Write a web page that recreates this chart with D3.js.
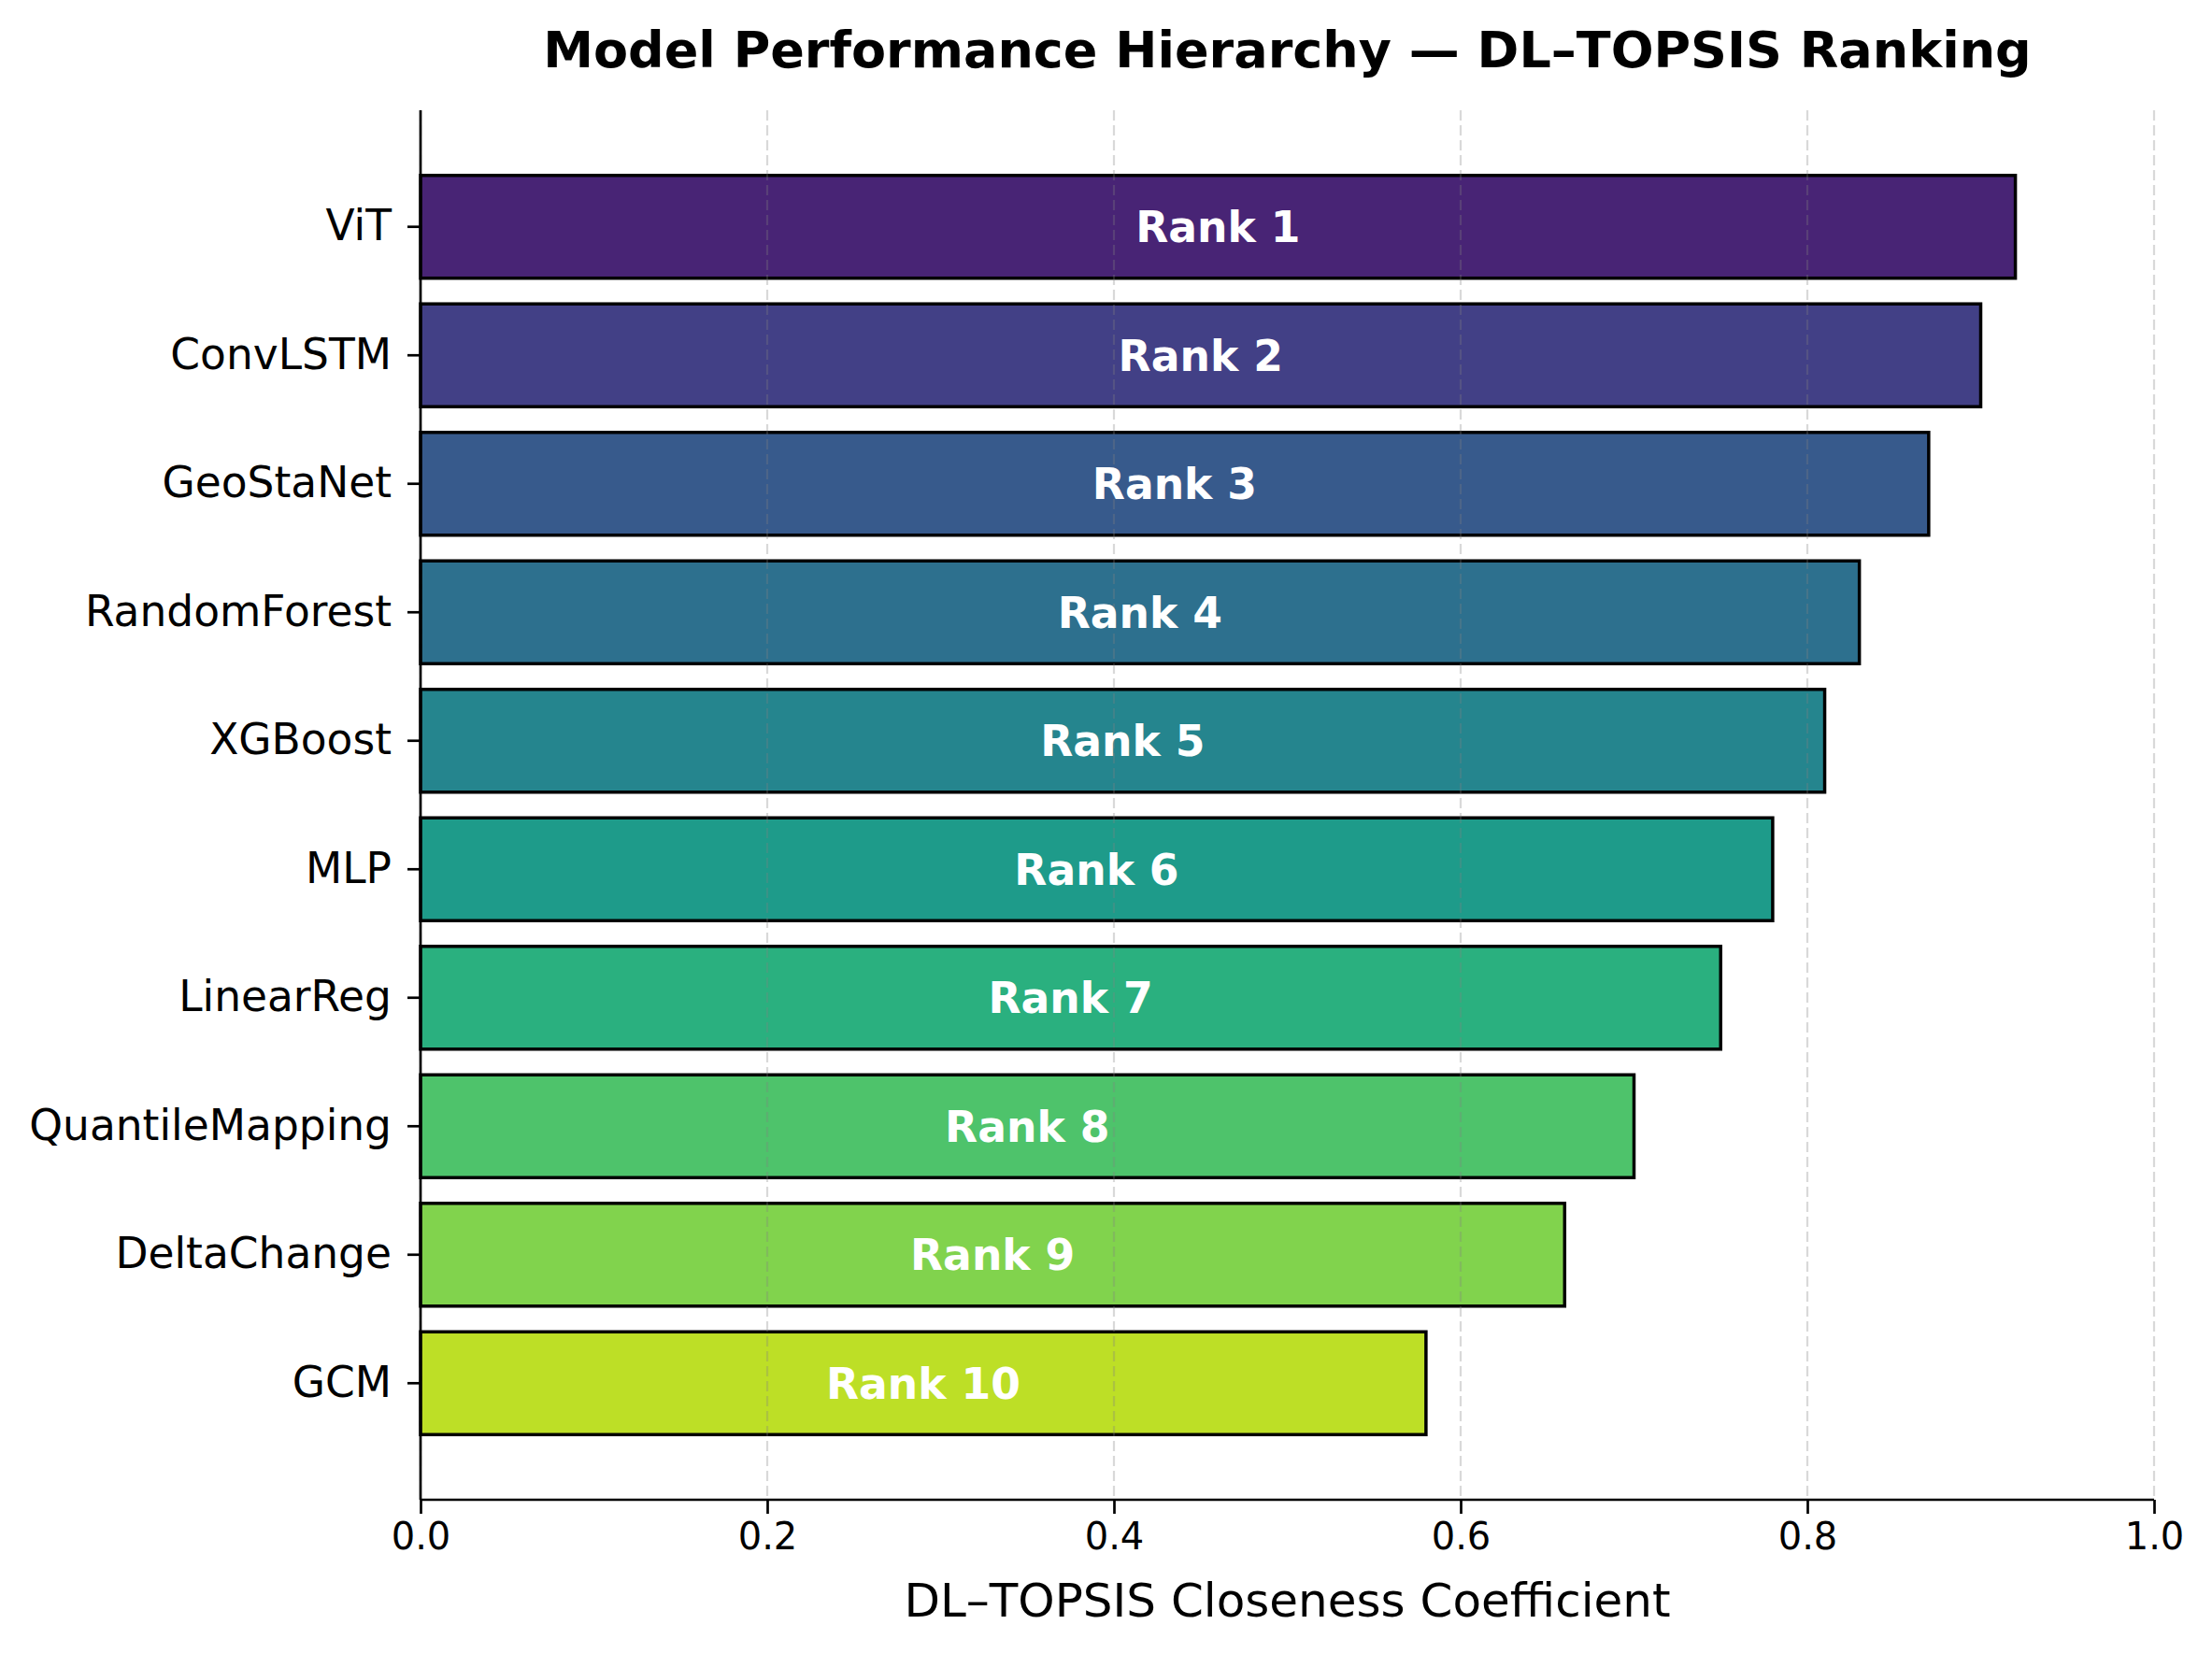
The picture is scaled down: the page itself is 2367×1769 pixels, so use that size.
<!DOCTYPE html>
<html>
<head>
<meta charset="utf-8">
<script src="https://cdn.jsdelivr.net/npm/d3@7"></script>
<style>
  html, body { margin: 0; padding: 0; background: #fff; }
  svg { display: block; }
  text { font-family: "DejaVu Sans", sans-serif; }
</style>
</head>
<body>
<script>
// ---- data ----
const models = ["ViT", "ConvLSTM", "GeoStaNet", "RandomForest", "XGBoost", "MLP", "LinearReg", "QuantileMapping", "DeltaChange", "GCM"];
const scores = [0.92, 0.90, 0.87, 0.83, 0.81, 0.78, 0.75, 0.70, 0.66, 0.58];
const ranks = [1, 2, 3, 4, 5, 6, 7, 8, 9, 10];
const xTicks = [0.0, 0.2, 0.4, 0.6, 0.8, 1.0];
const titleText = "Model Performance Hierarchy — DL–TOPSIS Ranking";
const xLabelText = "DL–TOPSIS Closeness Coefficient";

// ---- layout ----
const W = 2367, H = 1769;
const L = 450, R = 2305, T = 118, B = 1605;

const svg = d3.select("body").append("svg").attr("width", W).attr("height", H);

const x = d3.scaleLinear().domain([0, 1]).range([L, R]);
const y = d3.scaleBand().domain(models).range([T, B]).paddingInner(0.2).paddingOuter(0.507);
const color = d3.scaleSequential(d3.interpolateViridis).domain([0, 1]);
const colorAt = i => color(0.1 + i * 0.8 / (models.length - 1));

// bars
svg.append("g").selectAll("rect").data(models).join("rect")
  .attr("x", x(0))
  .attr("y", d => y(d))
  .attr("width", (d, i) => x(scores[i]) - x(0))
  .attr("height", y.bandwidth())
  .attr("fill", (d, i) => colorAt(i))
  .attr("stroke", "#000")
  .attr("stroke-width", 3.5);

// grid (on top, semi-transparent)
svg.append("g").selectAll("line").data(xTicks).join("line")
  .attr("x1", d => x(d)).attr("x2", d => x(d))
  .attr("y1", T).attr("y2", B)
  .attr("stroke", "#808080").attr("stroke-opacity", 0.3)
  .attr("stroke-width", 2.2)
  .attr("stroke-dasharray", "11,5");

// rank labels
svg.append("g").selectAll("text").data(models).join("text")
  .attr("x", (d, i) => x(scores[i] / 2))
  .attr("y", d => y(d) + y.bandwidth() / 2)
  .attr("dy", "0.36em")
  .attr("text-anchor", "middle")
  .attr("fill", "#fff")
  .attr("font-weight", "bold")
  .attr("font-size", 45.6)
  .text((d, i) => "Rank " + ranks[i]);

// x axis
const xAxis = d3.axisBottom(x).tickValues(xTicks).tickFormat(d3.format(".1f")).tickSize(15).tickPadding(10);
const gx = svg.append("g").attr("transform", `translate(0,${B})`).call(xAxis);
gx.select(".domain").attr("stroke", "#000").attr("stroke-width", 2.7).attr("d", `M${L},0H${R}`);
gx.selectAll(".tick line").attr("stroke", "#000").attr("stroke-width", 2.7);
gx.selectAll(".tick text").attr("font-size", 40).attr("fill", "#000")
  .attr("font-family", "DejaVu Sans");

// y axis
const yAxis = d3.axisLeft(y).tickSize(14).tickPadding(17);
const gy = svg.append("g").attr("transform", `translate(${L},0)`).call(yAxis);
gy.select(".domain").attr("stroke", "#000").attr("stroke-width", 2.7).attr("d", `M0,${T}V${B}`);
gy.selectAll(".tick line").attr("stroke", "#000").attr("stroke-width", 2.7);
gy.selectAll(".tick text").attr("font-size", 45.5).attr("fill", "#000")
  .attr("font-family", "DejaVu Sans");

// title
svg.append("text")
  .attr("x", (L + R) / 2).attr("y", 72)
  .attr("text-anchor", "middle")
  .attr("font-weight", "bold")
  .attr("font-size", 54)
  .text(titleText);

// x label
svg.append("text")
  .attr("x", (L + R) / 2).attr("y", 1730)
  .attr("text-anchor", "middle")
  .attr("font-size", 50)
  .text(xLabelText);
</script>
</body>
</html>
